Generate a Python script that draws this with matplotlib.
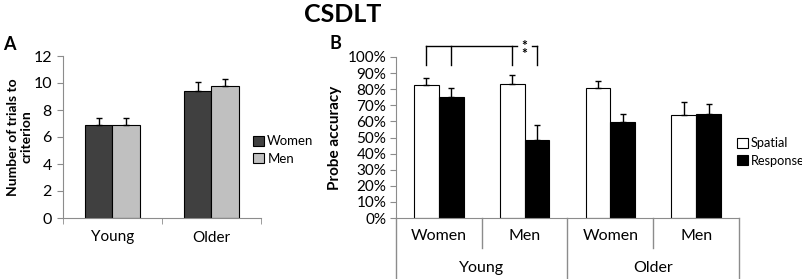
import matplotlib.pyplot as plt
import numpy as np

plt.rcParams['font.family'] = ['Lato', 'DejaVu Sans']

# Panel A data
age_groups = ['Young', 'Older']
trials_women = [6.9, 9.4]
trials_women_err = [0.5, 0.65]
trials_men = [6.9, 9.75]
trials_men_err = [0.5, 0.55]

# Panel B data
sex_labels = ['Women', 'Men', 'Women', 'Men']
group_labels = ['Young', 'Older']
spatial = [0.825, 0.835, 0.81, 0.642]
spatial_err = [0.045, 0.055, 0.043, 0.08]
response = [0.75, 0.485, 0.594, 0.646]
response_err = [0.055, 0.095, 0.052, 0.06]

W, H = 803, 279
fig = plt.figure(figsize=(W / 100, H / 100), dpi=100)


def px(x0, y0, x1, y1):
    # pixel box -> figure fraction [left, bottom, width, height]
    return [x0 / W, 1 - y1 / H, (x1 - x0) / W, (y1 - y0) / H]


axis_grey = '#8c8c8c'

# ---------- Panel A ----------
axA = fig.add_axes(px(63, 56, 261, 218))
x = np.arange(len(age_groups))
bw = 0.28
axA.bar(x - bw / 2, trials_women, bw, color='#404040', edgecolor='black', lw=0.8, label='Women')
axA.bar(x + bw / 2, trials_men, bw, color='#c0c0c0', edgecolor='black', lw=0.8, label='Men')
axA.errorbar(x - bw / 2, trials_women, yerr=[np.zeros(2), trials_women_err], fmt='none',
             ecolor='black', elinewidth=1, capsize=2.5, capthick=1)
axA.errorbar(x + bw / 2, trials_men, yerr=[np.zeros(2), trials_men_err], fmt='none',
             ecolor='black', elinewidth=1, capsize=2.5, capthick=1)
axA.set_xlim(-0.5, 1.5)
axA.set_ylim(0, 12)
axA.set_yticks(range(0, 13, 2))
axA.set_xticks(x)
axA.set_xticklabels(age_groups, fontsize=11)
axA.set_xticks([-0.5, 0.5, 1.5], minor=True)
axA.tick_params(axis='x', which='major', length=0, pad=9)
axA.tick_params(axis='x', which='minor', length=4, color=axis_grey, direction='out')
axA.tick_params(axis='y', length=4, color=axis_grey, labelsize=11.5, pad=4)
for s in ['top', 'right']:
    axA.spines[s].set_visible(False)
for s in ['left', 'bottom']:
    axA.spines[s].set_color(axis_grey)
fig.text(20 / W, 1 - 137 / H, 'Number of trials to\ncriterion', rotation=90, ha='center',
         va='center', fontsize=10, fontweight='bold', linespacing=1.1, multialignment='center')
axA.legend(loc='center left', bbox_to_anchor=(0.935, 0.42), frameon=False, fontsize=9.5,
           handlelength=0.8, handleheight=0.8, handletextpad=0.25, labelspacing=0.4,
           borderaxespad=0)

# ---------- Panel B ----------
axB = fig.add_axes(px(396, 57, 739, 218))
xb = np.arange(len(sex_labels))
bwb = 0.29
axB.bar(xb - bwb / 2, spatial, bwb, color='white', edgecolor='black', lw=0.8, label='Spatial')
axB.bar(xb + bwb / 2, response, bwb, color='black', edgecolor='black', lw=0.8, label='Response')
axB.errorbar(xb - bwb / 2, spatial, yerr=[np.zeros(4), spatial_err], fmt='none',
             ecolor='black', elinewidth=1, capsize=2.5, capthick=1)
axB.errorbar(xb + bwb / 2, response, yerr=[np.zeros(4), response_err], fmt='none',
             ecolor='black', elinewidth=1, capsize=2.5, capthick=1)
axB.set_xlim(-0.5, 3.5)
axB.set_ylim(0, 1)
axB.set_yticks(np.arange(0, 1.01, 0.1))
axB.set_yticklabels([f'{int(round(v * 100))}%' for v in np.arange(0, 1.01, 0.1)])
axB.tick_params(axis='y', length=4, color=axis_grey, labelsize=11, pad=3)
axB.set_xticks(xb)
axB.set_xticklabels(sex_labels, fontsize=11.5)
axB.tick_params(axis='x', length=0, pad=8)
for s in ['top', 'right']:
    axB.spines[s].set_visible(False)
for s in ['left', 'bottom']:
    axB.spines[s].set_color(axis_grey)
axB.set_ylabel('Probe accuracy', fontsize=11, fontweight='bold', labelpad=4)

# category divider lines under the axis
for xd in [0.5, 2.5]:
    axB.plot([xd, xd], [0, -30 / 161], color=axis_grey, lw=1, clip_on=False)
for xd in [-0.5, 1.5, 3.5]:
    axB.plot([xd, xd], [0, -62 / 161], color=axis_grey, lw=1, clip_on=False)
for i, g in enumerate(group_labels):
    axB.text(0.5 + 2 * i, -50 / 161, g, ha='center', va='center', fontsize=11.5,
             transform=axB.transData, clip_on=False)

# significance bracket
xs = [-bwb / 2, bwb / 2, 1 - bwb / 2, 1 + bwb / 2]
top, low = 1.07, 0.95
for xv in xs:
    axB.plot([xv, xv], [low, top], color='black', lw=1, clip_on=False)
axB.plot([xs[0], 0.91], [top, top], color='black', lw=1, clip_on=False)
axB.plot([1.085, xs[3]], [top, top], color='black', lw=1, clip_on=False)
axB.text(1.0, 1.045, '*\n*', ha='center', va='center', fontsize=10, fontweight='bold',
         linespacing=0.55, clip_on=False)

axB.legend(loc='center left', bbox_to_anchor=(0.995, 0.41), frameon=False, fontsize=9.2,
           handlelength=0.8, handleheight=0.8, handletextpad=0.25, labelspacing=0.4,
           borderaxespad=0, borderpad=0)

# ---------- titles / panel letters ----------
fig.text(343 / W, 1 - 14 / H, 'CSDLT', ha='center', va='center', fontsize=18, fontweight='bold')
fig.text(9 / W, 1 - 45 / H, 'A', ha='center', va='center', fontsize=13, fontweight='bold')
fig.text(335 / W, 1 - 44 / H, 'B', ha='center', va='center', fontsize=13, fontweight='bold')

fig.savefig('out.png', dpi=100)
